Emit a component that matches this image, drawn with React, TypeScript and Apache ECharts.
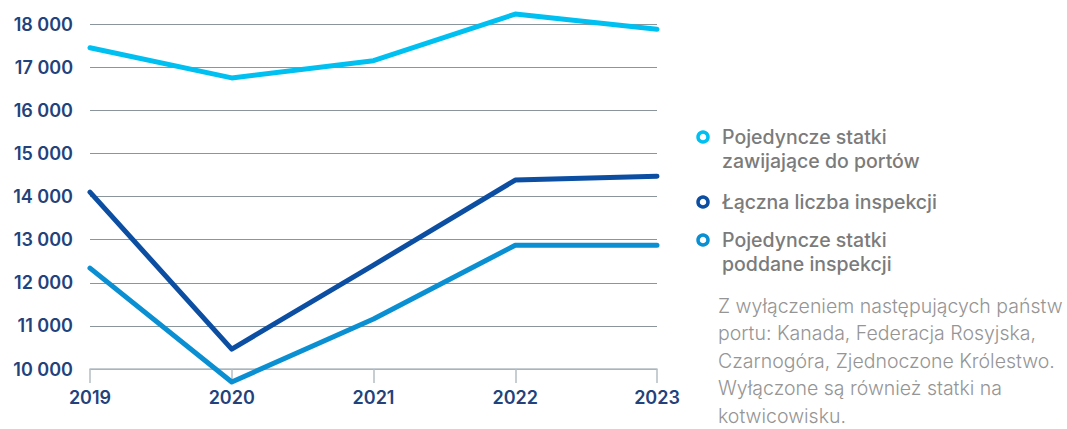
import React, { useEffect, useRef } from "react";
import * as echarts from "echarts";

const years = ["2019", "2020", "2021", "2022", "2023"];
const shipsCalling = [17450, 16750, 17150, 18230, 17880];
const totalInspections = [14100, 10460, 12410, 14380, 14470];
const shipsInspected = [12340, 9700, 11160, 12870, 12870];

const seriesNames = ["Pojedyncze statki\nzawijające do portów", "Łączna liczba inspekcji", "Pojedyncze statki\npoddane inspekcji"];
const seriesColors = ["#00c0f1", "#0b4ea2", "#0a8fd2"];
const noteLines = [
  "Z wyłączeniem następujących państw",
  "portu: Kanada, Federacja Rosyjska,",
  "Czarnogóra, Zjednoczone Królestwo.",
  "Wyłączone są również statki na",
  "kotwicowisku.",
];

export default function App() {
  const ref = useRef<HTMLDivElement>(null);
  useEffect(() => {
    if (!ref.current) return;
    const chart = echarts.init(ref.current, null, { renderer: "svg" });
    const data = [shipsCalling, totalInspections, shipsInspected];
    const legendTops = [137, 202, 240];
    const graphic: any[] = [];
    seriesNames.forEach((name, i) => {
      graphic.push({
        type: "circle",
        shape: { cx: 703, cy: legendTops[i], r: 5 },
        style: { fill: "#fff", stroke: seriesColors[i], lineWidth: 3.5 },
      });
      graphic.push({
        type: "text",
        x: 722,
        y: legendTops[i] - 12,
        style: {
          text: name,
          fill: "#7b7b7b",
          font: "500 19.5px Inter, 'Noto Sans', sans-serif",
          lineHeight: 24,
          textVerticalAlign: "top",
        },
      });
    });
    graphic.push({
      type: "text",
      x: 718,
      y: 292,
      style: {
        text: noteLines.join("\n"),
        fill: "#959595",
        font: "300 19.5px Inter, sans-serif",
        lineHeight: 27.5,
      },
    });
    const labelStyle = { color: "#23427c", fontSize: 18, fontWeight: 600, fontFamily: "Inter, sans-serif" };
    chart.setOption({
      animation: false,
      grid: { left: 90, right: 410, top: 24, bottom: 60, containLabel: false },
      xAxis: {
        type: "category",
        data: years,
        boundaryGap: false,
        axisLine: { lineStyle: { color: "#b4bec5", width: 1.5 } },
        axisTick: { show: true, length: 14, lineStyle: { color: "#b4bec5", width: 1.5 } },
        axisLabel: { ...labelStyle, margin: 19 },
        splitLine: { show: false },
      },
      yAxis: {
        type: "value",
        min: 10000,
        max: 18000,
        interval: 1000,
        axisLine: { show: false },
        axisTick: { show: false },
        splitLine: { lineStyle: { color: "#8a959c", width: 1 } },
        axisLabel: {
          ...labelStyle,
          margin: 17,
          formatter: (v: number) => {
            const s = String(v);
            return s.slice(0, s.length - 3) + " " + s.slice(-3);
          },
        },
      },
      series: seriesNames.map((name, i) => ({
        name,
        type: "line",
        data: data[i],
        clip: false,
        showSymbol: false,
        symbol: "none",
        lineStyle: { color: seriesColors[i], width: 5, cap: "round", join: "round" },
        z: 3 - i,
      })),
      graphic,
    });
    return () => chart.dispose();
  }, []);
  return <div ref={ref} style={{ width: 1067, height: 429, position: "absolute", left: 0, top: 0, background: "#fff" }} />;
}
